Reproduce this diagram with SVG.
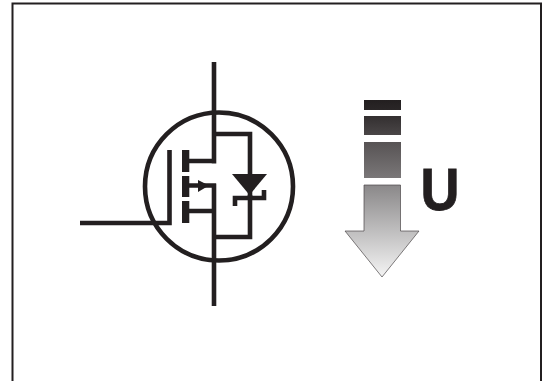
<svg xmlns="http://www.w3.org/2000/svg" width="549" height="381" viewBox="0 0 549 381">
<defs>
<linearGradient id="g1" x1="0" y1="0" x2="0" y2="1"><stop offset="0" stop-color="#231f20"/><stop offset="1" stop-color="#2a2627"/></linearGradient>
<linearGradient id="g2" x1="0" y1="0" x2="0" y2="1"><stop offset="0" stop-color="#332f30"/><stop offset="1" stop-color="#4a4647"/></linearGradient>
<linearGradient id="g3" x1="0" y1="0" x2="0" y2="1"><stop offset="0" stop-color="#575354"/><stop offset="1" stop-color="#7a7778"/></linearGradient>
<linearGradient id="g4" gradientUnits="userSpaceOnUse" x1="0" y1="185" x2="0" y2="277"><stop offset="0" stop-color="#8a8889"/><stop offset="1" stop-color="#f4f4f4"/></linearGradient>
<style>
.w{fill:none;stroke:#231f20;stroke-width:4.600}
.s{fill:#231f20;stroke:none}
</style>
</defs>
<rect width="549" height="381" fill="#fff"/>
<path id="frame" d="M12.500 381V3.500H541V381" fill="none" stroke="#231f20" stroke-width="2"/>
<g id="mosfet">
<circle class="w" cx="219" cy="186.500" r="74"/>
<g id="connectors">
<path class="w" d="M214 62V163.500M214 183.500V306M214 134H250V237H214M80 223H169.500V150M189 161H216M189 211H214M189 185.500H216"/>
<path class="w" d="M235 206V198H264V190M250 195V198"/>
</g>
<path class="s" d="M182 150h7.300v22h-7.300zM182 176h7.300v21h-7.300zM182 201h7.300v22h-7.300z"/>
<path class="s" d="M198 180L209 185.500L198 192z"/>
<path class="s" d="M232 174H267L249.500 195z"/>
</g>
<g id="arrow">
<rect x="364" y="100" width="37" height="10" fill="url(#g1)"/>
<rect x="364" y="116" width="37" height="19" fill="url(#g2)"/>
<rect x="364" y="142" width="37" height="36" fill="url(#g3)"/>
<path d="M364 185H400.500V231H419L382 277L345 231H364z" fill="url(#g4)" stroke="#4a4647" stroke-width="0.700"/>
</g>
<text id="label" transform="translate(420.500 210) scale(0.9 1)" font-family="Liberation Sans, Arial, sans-serif" font-weight="700" font-size="60" fill="#231f20" stroke="#231f20" stroke-width="0.800">U</text>
</svg>
